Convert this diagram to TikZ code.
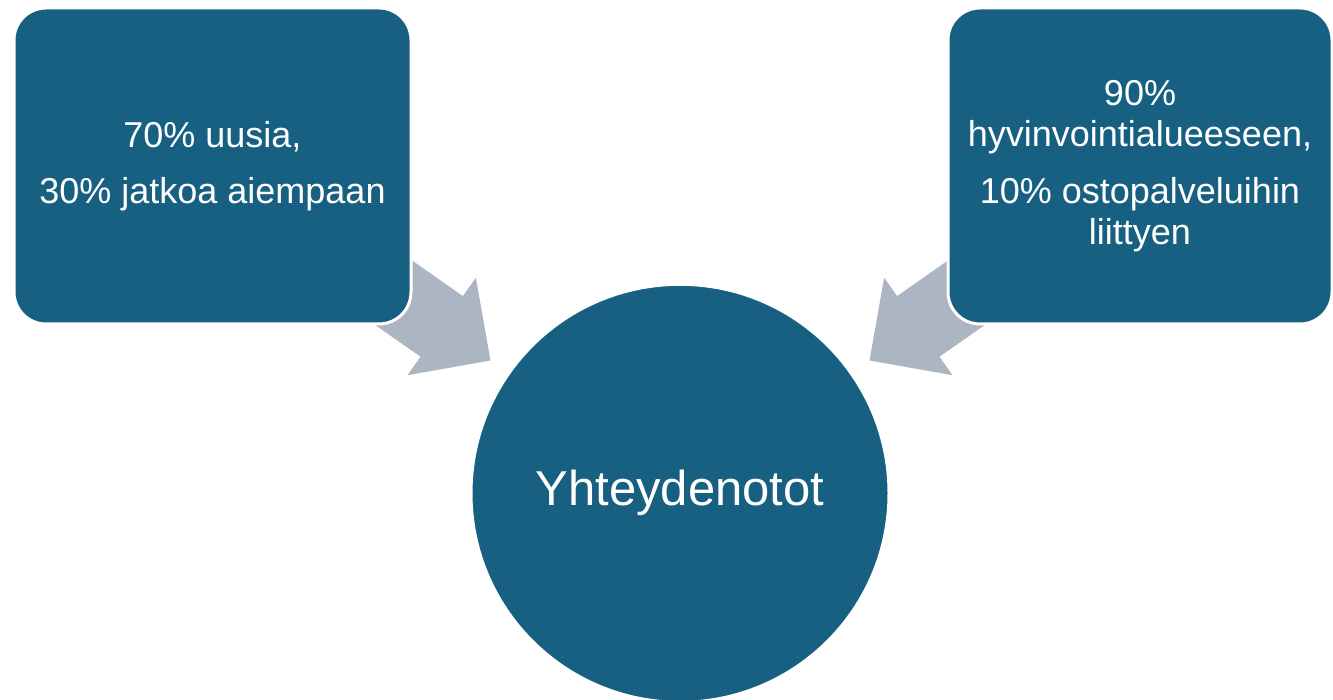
\documentclass[tikz,border=0pt]{standalone}
\usepackage{fontspec}
\setmainfont{Liberation Sans}
\usepackage{tikz}
\usetikzlibrary{shapes}
\definecolor{boxblue}{RGB}{23,96,129}
\definecolor{arrowgray}{RGB}{171,182,194}
\tikzstyle{box} = [draw=white, line width=3pt, fill=boxblue, rectangle,
    rounded corners=32pt, minimum width=397pt, minimum height=316pt,
    text=white, align=center, font=\fontsize{36}{41.5}\selectfont]
\tikzstyle{hub} = [draw=white, line width=3pt, fill=boxblue, circle,
    minimum size=418pt, text=white, font=\fontsize{49}{58}\selectfont]
\tikzstyle{bigarrow} = [single arrow, fill=arrowgray, inner xsep=0pt,
    inner ysep=36.8pt, minimum height=150pt,
    single arrow head extend=22.5pt, single arrow tip angle=90]

\begin{document}
\begin{tikzpicture}[x=1pt, y=-1pt]
  \useasboundingbox (0,0) rectangle (1333,700);
  % Place arrows
  \node [bigarrow, rotate=-35, anchor=tip] (a1) at (490.7,360.7) {};
  \node [bigarrow, rotate=-145, anchor=tip] (a2) at (869.3,360.7) {};
  % Place nodes
  \node [box] (new) at (212.5,166)
  {70\% uusia,\\[15pt]30\% jatkoa aiempaan};
  \node [box, minimum width=384pt] (area) at (1140,166)
  {90\%\\hyvinvointialueeseen,\\[15pt]10\% ostopalveluihin\\liittyen};
  \node [hub] (contacts) at (680,493.3) {Yhteydenotot};
\end{tikzpicture}
\end{document}
